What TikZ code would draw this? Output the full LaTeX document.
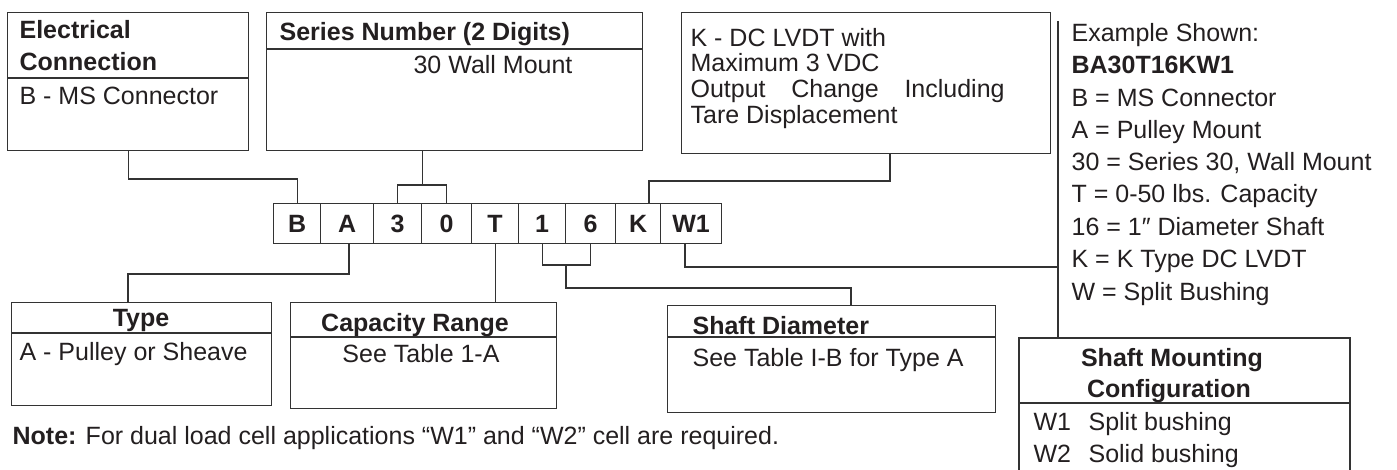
\documentclass[tikz,border=0pt]{standalone}
\usepackage{fontspec}
\setmainfont{Liberation Sans}
\definecolor{lc}{HTML}{333333}
\definecolor{tc}{HTML}{231F20}
\newcommand{\fs}{\fontsize{12.5}{15}\selectfont}
\begin{document}
\begin{tikzpicture}[x=0.5pt,y=-0.5pt,line width=0.6pt,
  box/.style={draw=lc,inner sep=0pt,anchor=north west},
  txt/.style={inner sep=0pt,anchor=base west,text=tc,font=\fs},
  hd/.style={txt,font=\fs\bfseries},
  ctxt/.style={txt,anchor=base},
  chd/.style={hd,anchor=base},
  cell/.style={draw=lc,inner sep=0pt,anchor=north west,minimum height=20pt,text=tc,font=\fs\bfseries},
  conn/.style={draw=lc,line width=0.6pt}]
\useasboundingbox (0,0) rectangle (1397,470);
% top boxes
\node[box,minimum width=120.5pt,minimum height=69pt] (elec) at (7,12) {};
\draw[lc] (7,78) -- (248,78);
\node[hd] (e1) at (19,39) {Electrical};
\node[hd] (e2) at (19,71) {Connection};
\node[txt] (e3) at (19,105) {B - MS Connector};

\node[box,minimum width=188pt,minimum height=69pt] (series) at (266,12) {};
\draw[lc] (266,49) -- (642,49);
\node[hd] (s1) at (279,41) {Series Number (2 Digits)};
\node[ctxt] (s2) at (493,74) {30 Wall Mount};

\node[box,minimum width=184.5pt,minimum height=70.5pt] (kbox) at (681,12) {};
\node[txt] (k1) at (690,47) {K - DC LVDT with};
\node[txt] (k2) at (690,72) {Maximum 3 VDC};
\node[txt] (k3) at (690,98) {\makebox[157pt][s]{Output Change Including}};
\node[txt] (k4) at (690,124) {Tare Displacement};

% example column
\coordinate (sepT) at (1058,21);
\coordinate (sepB) at (1058,300);
\draw[conn] (sepT) -- (sepB);
\node[txt] (x1) at (1071,42) {Example Shown:};
\node[hd]  (x2) at (1071,74) {BA30T16KW1};
\node[txt] (x3) at (1071,107) {B = MS Connector};
\node[txt] (x4) at (1071,139) {A = Pulley Mount};
\node[txt] (x5) at (1071,171) {30 = Series 30, Wall Mount};
\node[txt] (x6) at (1071,203) {T = 0-50 lbs. Capacity};
\node[txt] (x7) at (1071,236) {16 = 1″ Diameter Shaft};
\node[txt] (x8) at (1071,268) {K = K Type DC LVDT};
\node[txt] (x9) at (1071,300) {W = Split Bushing};

% code cells
\node[cell,minimum width=23.5pt] (cB) at (273,203) {B};
\node[cell,minimum width=26.5pt] (cA) at (320,203) {A};
\node[cell,minimum width=24pt]   (c3) at (373,203) {3};
\node[cell,minimum width=25pt]   (c0) at (421,203) {0};
\node[cell,minimum width=23.5pt] (cT) at (471,203) {T};
\node[cell,minimum width=23.5pt] (c1) at (518,203) {1};
\node[cell,minimum width=25pt]   (c6) at (565,203) {6};
\node[cell,minimum width=22.5pt] (cK) at (615,203) {K};
\node[cell,minimum width=30.5pt] (cW) at (660,203) {W1};

% bottom boxes
\node[box,minimum width=130pt,minimum height=51.5pt] (type) at (11,302) {};
\draw[lc] (11,333) -- (271,333);
\node[chd] (t1) at (141,327) {Type};
\node[txt] (t2) at (19,360) {A - Pulley or Sheave};

\node[box,minimum width=133pt,minimum height=53pt] (cap) at (290,302) {};
\draw[lc] (290,337) -- (556,337);
\node[chd] (p1) at (415,331) {Capacity Range};
\node[ctxt] (p2) at (421,362) {See Table 1-A};

\node[box,minimum width=164pt,minimum height=53.5pt] (shaft) at (667,305) {};
\draw[lc] (667,337) -- (995,337);
\node[hd] (d1) at (692,334) {Shaft Diameter};
\node[txt] (d2) at (692,366) {See Table I-B for Type A};

\coordinate (mount) at (1058,338);
\draw[lc] (1019,475) -- (1019,338) -- (1350,338) -- (1350,475);
\draw[lc] (1019,403) -- (1350,403);
\node[chd] (m1) at (1172,366) {Shaft Mounting};
\node[chd] (m2) at (1169,397) {Configuration};
\node[txt] (m3) at (1033,430) {W1\hspace{0.7em}Split bushing};
\node[txt] (m4) at (1033,462) {W2\hspace{0.7em}Solid bushing};

\node[txt] (note) at (12,444) {\textbf{Note:} For dual load cell applications “W1” and “W2” cell are required.};

% connectors
\draw[conn] (elec.south) -- (elec.south |- 0,179) -| (cB.north);
\draw[conn] (c3.east |- series.south) -- (c3.east |- 0,185);
\draw[conn] (c3.north) -- (c3.north |- 0,185) -- (c0.north |- 0,185) -- (c0.north);
\draw[conn] (kbox.south -| 890,0) -- (890,181) -| (cK.north -| 649,0);
\draw[conn] (cA.south -| 349,0) -- (349,274) -| (type.north -| 128,0);
\draw[conn] (cT.south) -- (cT.south |- cap.north);
\draw[conn] (c1.south) -- (c1.south |- 0,265) -- (c6.south |- 0,265) -- (c6.south);
\draw[conn] (566,265) -- (566,288) -| (shaft.north -| 851,0);
\draw[conn] (cW.south -| 685,0) -- (685,267) -| (mount);
\end{tikzpicture}
\end{document}
